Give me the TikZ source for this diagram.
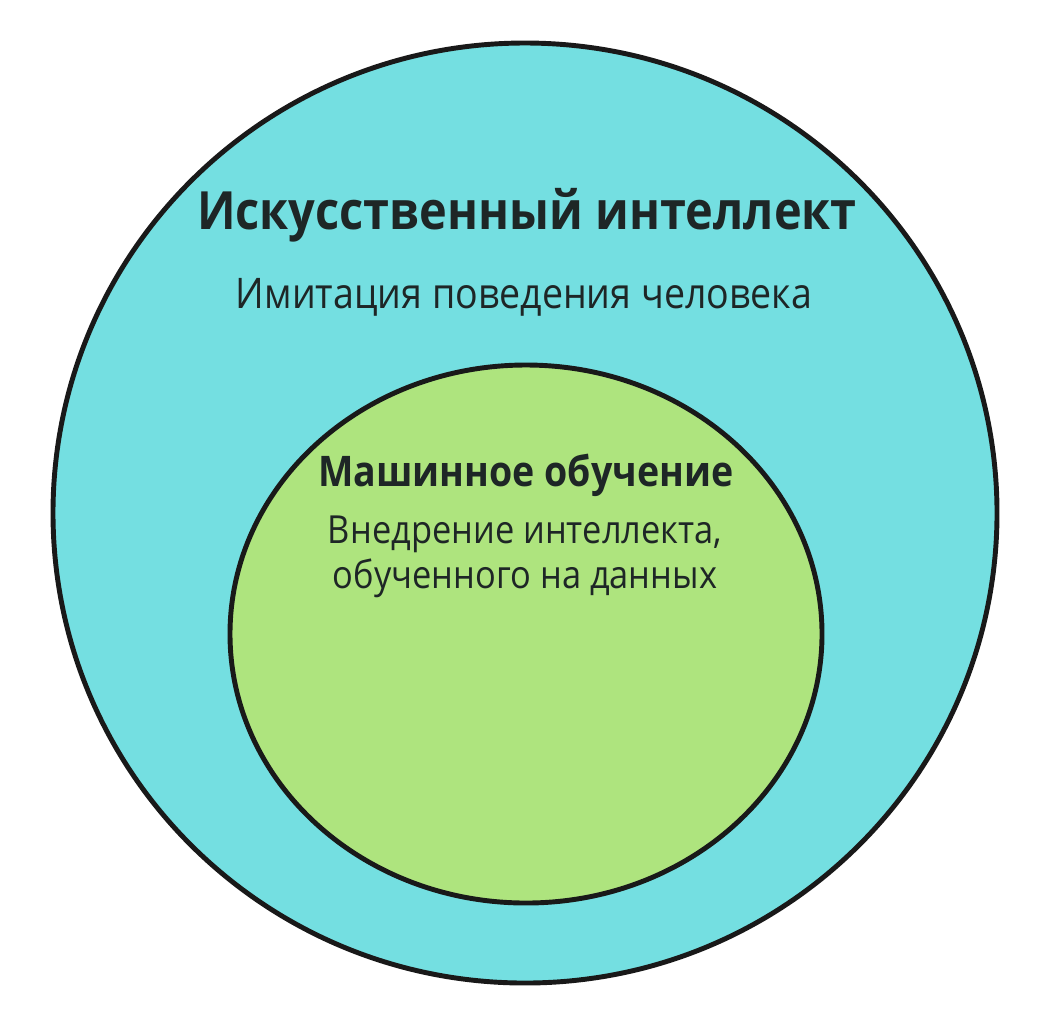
\documentclass[tikz,border=0pt]{standalone}
\usepackage{fontspec}
\setmainfont[FakeStretch=0.89]{Open Sans}
\definecolor{aicyan}{RGB}{116,223,225}
\definecolor{mlgreen}{RGB}{174,228,126}
\definecolor{textdark}{RGB}{30,38,38}
\tikzset{
  ring/.style={draw=black!90, line width=1.4pt},
  bigtitle/.style={text=textdark, font=\fontsize{15}{18}\selectfont\bfseries},
  smalltitle/.style={text=textdark, font=\fontsize{12}{14}\selectfont\bfseries},
  desc/.style={text=textdark, align=center}
}
\begin{document}
\begin{tikzpicture}
            \useasboundingbox (0,0) rectangle (10.52,-10.24);
            % Circulo exterior
            \filldraw[ring, fill=aicyan] (5.25,-5.13) ellipse (4.72 and 4.70);
            % Circulo interior
            \filldraw[ring, fill=mlgreen] (5.26,-6.34) ellipse (2.96 and 2.69);

            % Textos
            \node[bigtitle] (ai) at (5.27,-2.15) {Искусственный интеллект};
            \node[desc, font=\fontsize{12}{14}\selectfont] (aidesc) at (5.24,-2.97) {Имитация поведения человека};
            \node[smalltitle] (ml) at (5.26,-4.75) {Машинное обучение};
            \node[desc, font=\fontsize{11}{12.8}\selectfont] (mldesc) at (5.25,-5.57) {Внедрение интеллекта,\\обученного на данных};
\end{tikzpicture}
\end{document}
